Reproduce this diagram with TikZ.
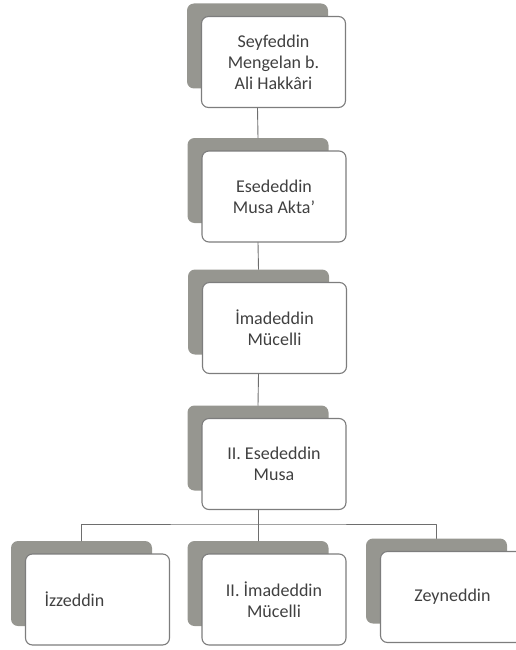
\documentclass[tikz,border=0pt]{standalone}
\usepackage{fontspec}
\setmainfont{Carlito}
\usepackage{tikz}
\usetikzlibrary{calc}
\definecolor{boxline}{RGB}{125,125,125}
\definecolor{shade}{RGB}{150,150,144}
\definecolor{linkgray}{RGB}{110,110,110}

\begin{document}
\begin{tikzpicture}[line cap=round,line join=round,x=1pt,y=-1pt,
	card/.style={draw=boxline,line width=1.1pt,fill=white,rounded corners=7pt,minimum width=144pt,minimum height=91pt,inner sep=0pt,align=center,text=black!75,font=\fontsize{18}{21}\selectfont},
	back/.style={fill=shade,rounded corners=7pt,minimum width=141pt,minimum height=85pt,inner sep=0pt},
	link/.style={draw=linkgray,line width=0.9pt}]
			\useasboundingbox (0,0) rectangle (516,650);
			\node[back] (s1) at (257.5,46) {};
			\node[card] (n1) at (273.5,62) {Seyfeddin\\Mengelan b.\\Ali Hakkâri};
			\node[back] (s2) at (258,180.5) {};
			\node[card] (n2) at (274,196.5) {Esededdin\\Musa Akta’};
			\node[back] (s3) at (258.5,312) {};
			\node[card] (n3) at (274.5,328) {İmadeddin\\Mücelli};
			\node[back] (s4) at (258,448) {};
			\node[card] (n4) at (274,464) {II. Esededdin\\Musa};
			\node[back] (s5) at (81.5,583.5) {};
			\node[card,align=left,text width=106pt] (n5) at (97.5,599.5) {İzzeddin};
			\node[back] (s6) at (258,583.5) {};
			\node[card] (n6) at (274,599.5) {II. İmadeddin\\Mücelli};
			\node[back] (s7) at (436.5,581) {};
			\node[card] (n7) at (452.5,597) {Zeyneddin};
			\coordinate (split) at (258,524);
			\draw[link] (s1 |- n1.south) -- (s2.north);
			\draw[link] (s2 |- n2.south) -- (s3.north);
			\draw[link] (s3 |- n3.south) -- (s4.north);
			\draw[link] (s4 |- n4.south) -- (split);
			\draw[link] (s5.north) |- (split) -| (s7.north);
			\draw[link] (split) -- (s6.north);
			\end{tikzpicture}
\end{document}
